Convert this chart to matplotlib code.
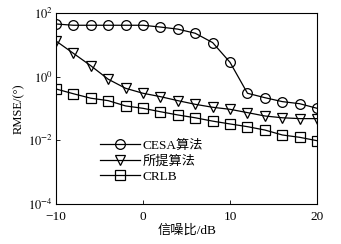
import matplotlib
matplotlib.use("Agg")
import matplotlib.pyplot as plt
import numpy as np

plt.rcParams['font.family'] = ['Liberation Serif', 'Noto Sans CJK SC']
plt.rcParams['mathtext.fontset'] = 'stix'
plt.rcParams['axes.unicode_minus'] = True

#SNR points and RMSE curves
snr = [-10, -8, -6, -4, -2, 0, 2, 4, 6, 8, 10, 12, 14, 16, 18, 20]
cesa = [45, 41, 41, 41, 41, 41, 36, 31, 23, 11.7, 2.8, 0.30, 0.218, 0.164, 0.141, 0.101]
proposed = [13.2, 5.4, 2.2, 0.83, 0.43, 0.30, 0.235, 0.176, 0.135, 0.109,
            0.094, 0.074, 0.058, 0.051, 0.048, 0.048]
crlb = [0.41, 0.29, 0.21, 0.176, 0.12, 0.101, 0.079, 0.0625, 0.051, 0.040,
        0.0326, 0.0268, 0.021, 0.0147, 0.0124, 0.0097]

labels = ["CESA算法", "所提算法", "CRLB"]
xticks = [-10, 0, 10, 20]
yticks = [1e-4, 1e-2, 1e0, 1e2]

fig = plt.figure(figsize=(3.41, 2.44), dpi=100)
ax = fig.add_axes([0.164, 0.164, 0.766, 0.783])

style = dict(color="black", lw=0.9, markersize=7, markerfacecolor="none",
             markeredgewidth=0.9)
ax.plot(snr, cesa, marker="o", label=labels[0], **style)
ax.plot(snr, proposed, marker="v", label=labels[1], **style)
ax.plot(snr, crlb, marker="s", label=labels[2], **style)

ax.set_yscale("log")
ax.set_xlim(-10, 20)
ax.set_ylim(1e-4, 1e2)
ax.set_xticks(xticks)
ax.set_xticklabels(["−10", "0", "10", "20"])
ax.set_yticks(yticks)
ax.set_yticklabels([r"$10^{-4}$", r"$10^{-2}$", r"$10^{0}$", r"$10^{2}$"])
ax.minorticks_off()
ax.tick_params(direction="in", length=3, width=0.6, labelsize=9.5, pad=2)
ax.tick_params(axis="y", labelsize=9)
ax.tick_params(axis="x", pad=5)

for s in ax.spines.values():
    s.set_linewidth(0.8)

ax.set_xlabel("信噪比/dB", fontsize=9.5, labelpad=1)
ax.set_ylabel("RMSE/(°)", fontsize=9, labelpad=2)

ax.legend(loc="upper left", bbox_to_anchor=(0.15, 0.365), frameon=False,
          fontsize=9.5, handlelength=3.0, handletextpad=0.2, labelspacing=0.25,
          borderaxespad=0)

fig.savefig("out.png", dpi=100)
